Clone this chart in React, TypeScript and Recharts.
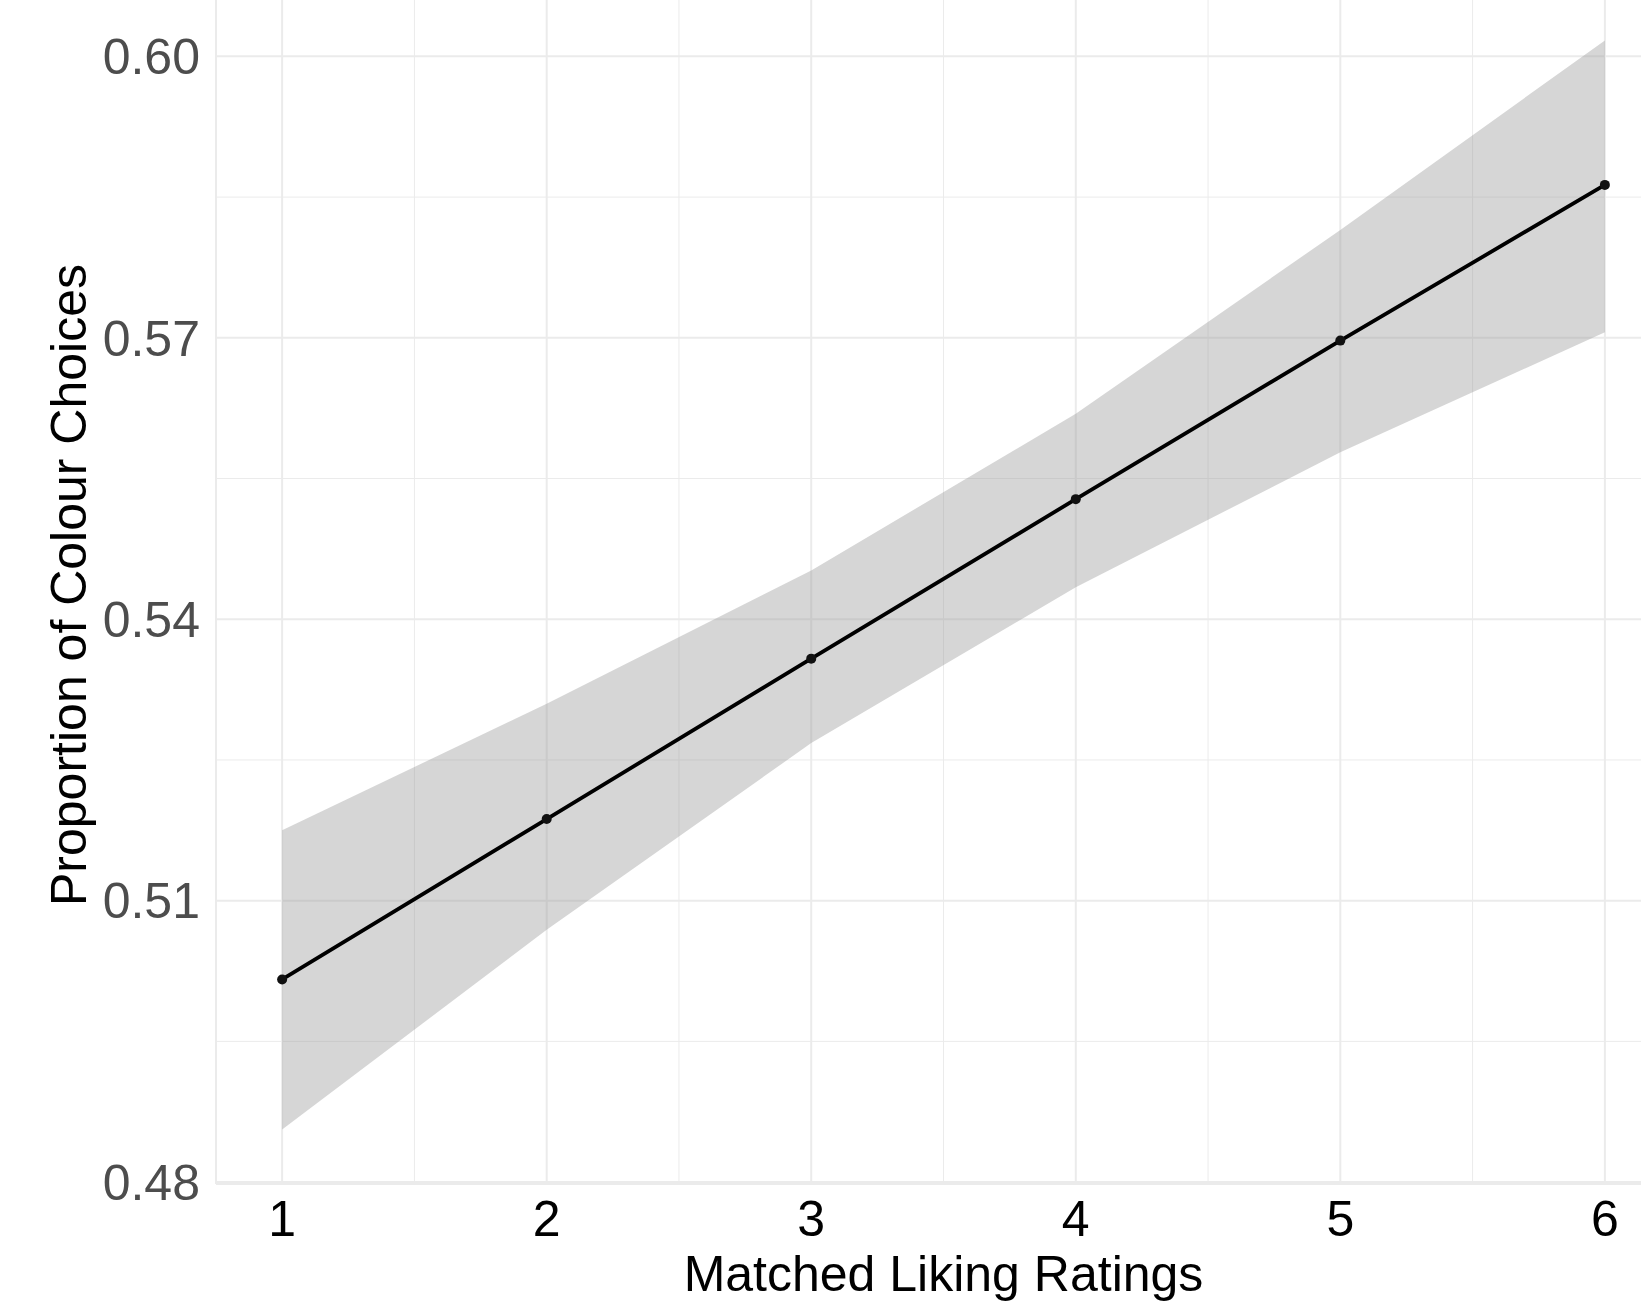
import React from 'react';
import {
  ComposedChart,
  Area,
  Line,
  XAxis,
  YAxis,
  CartesianGrid,
} from 'recharts';

// Values
const ratings = [1, 2, 3, 4, 5, 6];
const fitted = [0.5016, 0.5187, 0.5358, 0.5528, 0.5697, 0.5863];
const lowerCI = [0.4856, 0.5069, 0.5268, 0.5434, 0.5578, 0.5706];
const upperCI = [0.5175, 0.531, 0.5452, 0.5619, 0.5815, 0.6017];

const xTicks = [1, 2, 3, 4, 5, 6];
const xMinorTicks = [1.5, 2.5, 3.5, 4.5, 5.5];
const yTicks = [0.48, 0.51, 0.54, 0.57, 0.6];
const yMinorTicks = [0.495, 0.525, 0.555, 0.585];

const xDomain = [0.75, 6.25];
const yDomain = [0.4798, 0.6075];

const FONT = '"Liberation Sans", Arial, Helvetica, sans-serif';

const data = ratings.map((x, i) => ({
  x,
  fit: fitted[i],
  band: [lowerCI[i], upperCI[i]],
}));

export default function App() {
  return (
    <div
      style={{
        position: 'absolute',
        left: 0,
        top: 0,
        width: 1641,
        height: 1302,
        overflow: 'hidden',
        background: '#fff',
      }}
    >
      {/* the plot is a bit wider/taller than the page, cropped like the original */}
      <div style={{ position: 'absolute', left: 0, top: -14 }}>
        <ComposedChart
          width={1671}
          height={1316}
          data={data}
          margin={{ top: 0, right: 0, bottom: 0, left: 0 }}
          style={{ fontFamily: FONT }}
        >
          <XAxis
            xAxisId="minor"
            type="number"
            dataKey="x"
            domain={xDomain}
            ticks={xMinorTicks}
            allowDataOverflow
            hide
          />
          <YAxis
            yAxisId="minor"
            type="number"
            domain={yDomain}
            ticks={yMinorTicks}
            allowDataOverflow
            hide
          />
          <CartesianGrid xAxisId="minor" yAxisId="minor" stroke="#EBEBEB" strokeWidth={1} />
          <CartesianGrid stroke="#EBEBEB" strokeWidth={2} />
          <XAxis
            type="number"
            dataKey="x"
            domain={xDomain}
            ticks={xTicks}
            allowDataOverflow
            height={118}
            axisLine={false}
            tickLine={false}
            tickSize={0}
            tickMargin={16}
            tick={{ fill: '#000', fontSize: 50, fontFamily: FONT }}
            label={{
              value: 'Matched Liking Ratings',
              position: 'center',
              dy: 30,
              fill: '#000',
              fontSize: 50,
              fontFamily: FONT,
            }}
          />
          <YAxis
            type="number"
            domain={yDomain}
            ticks={yTicks}
            allowDataOverflow
            width={216}
            axisLine={false}
            tickLine={false}
            tickSize={0}
            tickMargin={16}
            tickFormatter={(v: number) => v.toFixed(2)}
            tick={{ fill: '#4D4D4D', fontSize: 50, fontFamily: FONT }}
            label={{
              value: 'Proportion of Colour Choices',
              angle: -90,
              position: 'center',
              dx: -40,
              fill: '#000',
              fontSize: 50,
              fontFamily: FONT,
            }}
          />
          <Area
            type="linear"
            dataKey="band"
            stroke="none"
            fill="#999999"
            fillOpacity={0.4}
            isAnimationActive={false}
            activeDot={false}
          />
          <Line
            type="linear"
            dataKey="fit"
            stroke="#000"
            strokeWidth={3.8}
            dot={{ r: 5, fill: '#111', stroke: 'none' }}
            activeDot={false}
            isAnimationActive={false}
          />
        </ComposedChart>
      </div>
    </div>
  );
}
